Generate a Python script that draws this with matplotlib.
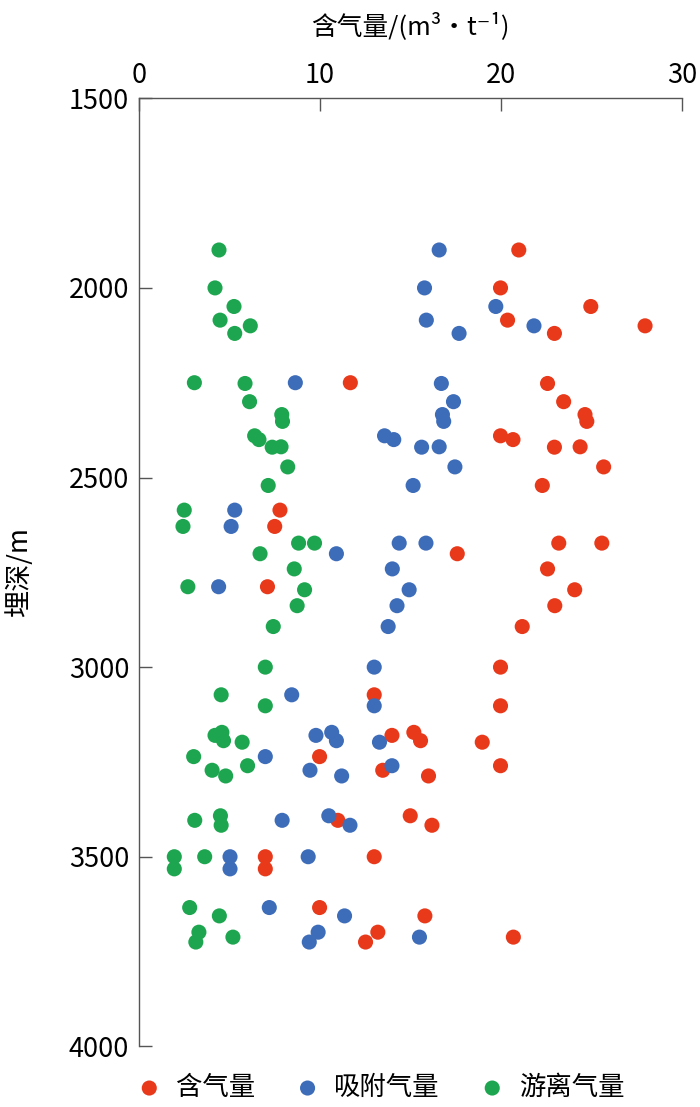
import matplotlib
matplotlib.use("Agg")
import matplotlib.pyplot as plt

plt.rcParams['font.family'] = ['Noto Sans CJK SC', 'DejaVu Sans']

# depth (m) of each sample
depth = [1900, 2000, 2049, 2085, 2100, 2120, 2250, 2252, 2300, 2334, 2352, 2390,
         2400, 2420, 2419, 2472, 2521, 2586, 2629, 2673, 2673, 2701, 2741, 2788,
         2796, 2838, 2893, 3000, 3073, 3102, 3172, 3180, 3194, 3198, 3236, 3260,
         3272, 3287, 3392, 3404, 3417, 3500, 3500, 3532, 3634, 3656, 3699, 3712, 3725]

# total gas content (含气量)
total_gas = [20.99, 19.98, 24.97, 20.37, 27.97, 22.96, 11.68, 22.58, 23.47, 24.65, 24.75, 19.98,
             20.67, 22.96, 24.38, 25.68, 22.29, 7.79, 7.50, 23.20, 25.58, 17.59, 22.58, 7.10,
             24.08, 22.98, 21.18, 19.98, 13.00, 19.98, 15.19, 13.98, 15.56, 18.97, 9.98, 19.98,
             13.47, 16.00, 14.99, 10.99, 16.19, 6.98, 13.00, 6.98, 9.98, 15.80, 13.20, 20.69, 12.52]

# adsorbed gas (吸附气量)
adsorbed_gas = [16.59, 15.78, 19.72, 15.88, 21.83, 17.69, 8.64, 16.71, 17.38, 16.77, 16.84, 13.57,
                14.08, 15.62, 16.59, 17.46, 15.15, 5.29, 5.09, 14.38, 15.86, 10.91, 14.00, 4.40,
                14.93, 14.26, 13.77, 13.00, 8.44, 13.00, 10.65, 9.78, 10.91, 13.29, 6.98, 13.98,
                9.45, 11.20, 10.49, 7.91, 11.66, 5.03, 9.35, 5.03, 7.20, 11.36, 9.90, 15.50, 9.41]

# free gas (游离气量)
free_gas = [4.42, 4.20, 5.25, 4.48, 6.15, 5.29, 3.06, 5.86, 6.11, 7.89, 7.93, 6.39,
            6.63, 7.36, 7.85, 8.22, 7.14, 2.50, 2.43, 8.82, 9.70, 6.69, 8.58, 2.70,
            9.15, 8.74, 7.42, 6.98, 4.54, 6.98, 4.58, 4.20, 4.67, 5.70, 3.02, 6.00,
            4.04, 4.79, 4.50, 3.08, 4.54, 1.95, 3.63, 1.95, 2.80, 4.44, 3.31, 5.19, 3.14]

series_labels = ['含气量', '吸附气量', '游离气量']
series_colors = ['#E8391B', '#3D6CB9', '#1DA64F']

x_ticks = [0, 10, 20, 30]
y_ticks = [1500, 2000, 2500, 3000, 3500, 4000]

fig = plt.figure(figsize=(7.0, 11.07), dpi=100)
ax = fig.add_axes([0.1986, 0.0548, 0.7754, 0.8564])

ms = 118
for vals, lab, col in zip([total_gas, adsorbed_gas, free_gas], series_labels, series_colors):
    ax.scatter(vals, depth, s=ms, c=col, edgecolors='none', label=lab, zorder=3, clip_on=False)

ax.set_xlim(0, 30)
ax.set_ylim(4000, 1500)
ax.set_xticks(x_ticks)
ax.set_yticks(y_ticks)
ax.xaxis.tick_top()
ax.xaxis.set_label_position('top')

for side in ['right', 'bottom']:
    ax.spines[side].set_visible(False)
for side in ['left', 'top']:
    ax.spines[side].set_color('#555555')
    ax.spines[side].set_linewidth(1.0)

ax.tick_params(axis='both', direction='in', length=9, width=1.0, color='#555555',
               labelsize=19.5, labelcolor='#000000')
ax.tick_params(axis='x', pad=7)
ax.tick_params(axis='y', pad=7)

ax.set_xlabel('含气量/(m³•t⁻¹)', fontsize=18.5, labelpad=20, color='#000000')
ax.set_ylabel('埋深/m', fontsize=19.5, labelpad=26, color='#000000')

leg = fig.legend(loc='lower center', bbox_to_anchor=(0.543, -0.016), ncol=3, frameon=False,
                 fontsize=19, handletextpad=0.5, columnspacing=1.5, markerscale=1.0,
                 handlelength=1.0)

fig.savefig('out.png', dpi=100)
